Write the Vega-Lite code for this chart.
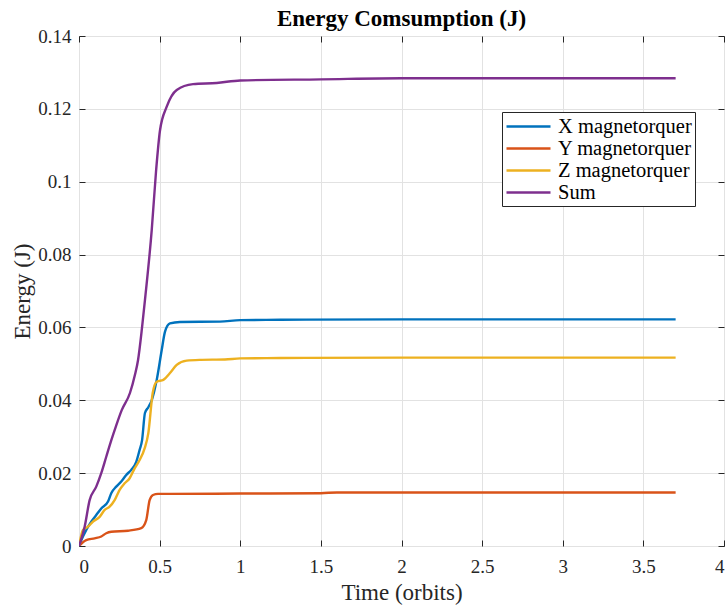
{
  "$schema": "https://vega.github.io/schema/vega-lite/v6.json",
  "width": 645,
  "height": 510,
  "autosize": "none",
  "padding": {"left": 79, "top": 36, "right": 3, "bottom": 59},
  "background": "white",
  "title": {"text": "Energy Comsumption (J)", "font": "Liberation Serif", "fontSize": 23, "fontWeight": "bold", "color": "#000000", "anchor": "middle", "baseline": "bottom", "offset": 5, "dy": 32},
  "config": {
    "view": {"stroke": "#262626", "strokeWidth": 1},
    "axis": {"domainColor": "#262626", "tickColor": "#262626", "gridColor": "#e2e2e2", "gridWidth": 1, "labelFont": "Liberation Serif", "labelFontSize": 19, "labelColor": "#262626", "titleFont": "Liberation Serif", "titleFontSize": 23, "titleColor": "#262626", "titleFontWeight": "normal", "tickSize": -6},
    "legend": {"labelFont": "Liberation Serif", "labelFontSize": 20.5, "labelColor": "#000000"}
  },
  "datasets": {
    "series": [
      {"t": 0, "e": 0, "s": "X magnetorquer"},
      {"t": 0.014, "e": 0.0016, "s": "X magnetorquer"},
      {"t": 0.045, "e": 0.0044, "s": "X magnetorquer"},
      {"t": 0.076, "e": 0.0067, "s": "X magnetorquer"},
      {"t": 0.107, "e": 0.0085, "s": "X magnetorquer"},
      {"t": 0.138, "e": 0.0103, "s": "X magnetorquer"},
      {"t": 0.180, "e": 0.0122, "s": "X magnetorquer"},
      {"t": 0.200, "e": 0.0145, "s": "X magnetorquer"},
      {"t": 0.231, "e": 0.0163, "s": "X magnetorquer"},
      {"t": 0.262, "e": 0.0177, "s": "X magnetorquer"},
      {"t": 0.293, "e": 0.0195, "s": "X magnetorquer"},
      {"t": 0.324, "e": 0.0209, "s": "X magnetorquer"},
      {"t": 0.355, "e": 0.0231, "s": "X magnetorquer"},
      {"t": 0.376, "e": 0.0264, "s": "X magnetorquer"},
      {"t": 0.391, "e": 0.0290, "s": "X magnetorquer"},
      {"t": 0.409, "e": 0.0365, "s": "X magnetorquer"},
      {"t": 0.430, "e": 0.0381, "s": "X magnetorquer"},
      {"t": 0.451, "e": 0.0400, "s": "X magnetorquer"},
      {"t": 0.482, "e": 0.0456, "s": "X magnetorquer"},
      {"t": 0.513, "e": 0.0538, "s": "X magnetorquer"},
      {"t": 0.533, "e": 0.0588, "s": "X magnetorquer"},
      {"t": 0.564, "e": 0.0611, "s": "X magnetorquer"},
      {"t": 0.626, "e": 0.0615, "s": "X magnetorquer"},
      {"t": 0.874, "e": 0.0616, "s": "X magnetorquer"},
      {"t": 1.0, "e": 0.0620, "s": "X magnetorquer"},
      {"t": 1.25, "e": 0.0621, "s": "X magnetorquer"},
      {"t": 2.0, "e": 0.0622, "s": "X magnetorquer"},
      {"t": 3.7, "e": 0.0622, "s": "X magnetorquer"},

      {"t": 0, "e": 0, "s": "Y magnetorquer"},
      {"t": 0.045, "e": 0.0016, "s": "Y magnetorquer"},
      {"t": 0.097, "e": 0.0021, "s": "Y magnetorquer"},
      {"t": 0.138, "e": 0.0026, "s": "Y magnetorquer"},
      {"t": 0.169, "e": 0.0035, "s": "Y magnetorquer"},
      {"t": 0.200, "e": 0.0039, "s": "Y magnetorquer"},
      {"t": 0.304, "e": 0.0042, "s": "Y magnetorquer"},
      {"t": 0.386, "e": 0.0049, "s": "Y magnetorquer"},
      {"t": 0.417, "e": 0.0071, "s": "Y magnetorquer"},
      {"t": 0.438, "e": 0.0126, "s": "Y magnetorquer"},
      {"t": 0.459, "e": 0.0140, "s": "Y magnetorquer"},
      {"t": 0.490, "e": 0.0143, "s": "Y magnetorquer"},
      {"t": 0.564, "e": 0.0143, "s": "Y magnetorquer"},
      {"t": 1.0, "e": 0.0144, "s": "Y magnetorquer"},
      {"t": 1.5, "e": 0.0145, "s": "Y magnetorquer"},
      {"t": 1.6, "e": 0.0147, "s": "Y magnetorquer"},
      {"t": 2.0, "e": 0.0147, "s": "Y magnetorquer"},
      {"t": 3.7, "e": 0.0147, "s": "Y magnetorquer"},

      {"t": 0, "e": 0, "s": "Z magnetorquer"},
      {"t": 0.025, "e": 0.0044, "s": "Z magnetorquer"},
      {"t": 0.056, "e": 0.0053, "s": "Z magnetorquer"},
      {"t": 0.087, "e": 0.0067, "s": "Z magnetorquer"},
      {"t": 0.128, "e": 0.0080, "s": "Z magnetorquer"},
      {"t": 0.159, "e": 0.0099, "s": "Z magnetorquer"},
      {"t": 0.190, "e": 0.0108, "s": "Z magnetorquer"},
      {"t": 0.221, "e": 0.0126, "s": "Z magnetorquer"},
      {"t": 0.252, "e": 0.0154, "s": "Z magnetorquer"},
      {"t": 0.283, "e": 0.0172, "s": "Z magnetorquer"},
      {"t": 0.314, "e": 0.0186, "s": "Z magnetorquer"},
      {"t": 0.345, "e": 0.0213, "s": "Z magnetorquer"},
      {"t": 0.376, "e": 0.0236, "s": "Z magnetorquer"},
      {"t": 0.407, "e": 0.0268, "s": "Z magnetorquer"},
      {"t": 0.430, "e": 0.0310, "s": "Z magnetorquer"},
      {"t": 0.457, "e": 0.0420, "s": "Z magnetorquer"},
      {"t": 0.482, "e": 0.0451, "s": "Z magnetorquer"},
      {"t": 0.523, "e": 0.0456, "s": "Z magnetorquer"},
      {"t": 0.564, "e": 0.0475, "s": "Z magnetorquer"},
      {"t": 0.606, "e": 0.0497, "s": "Z magnetorquer"},
      {"t": 0.668, "e": 0.0509, "s": "Z magnetorquer"},
      {"t": 0.750, "e": 0.0511, "s": "Z magnetorquer"},
      {"t": 0.905, "e": 0.0512, "s": "Z magnetorquer"},
      {"t": 1.0, "e": 0.0515, "s": "Z magnetorquer"},
      {"t": 1.25, "e": 0.0516, "s": "Z magnetorquer"},
      {"t": 2.0, "e": 0.0517, "s": "Z magnetorquer"},
      {"t": 3.7, "e": 0.0517, "s": "Z magnetorquer"},

      {"t": 0, "e": 0, "s": "Sum"},
      {"t": 0.035, "e": 0.0053, "s": "Sum"},
      {"t": 0.066, "e": 0.0126, "s": "Sum"},
      {"t": 0.107, "e": 0.0163, "s": "Sum"},
      {"t": 0.138, "e": 0.0200, "s": "Sum"},
      {"t": 0.169, "e": 0.0245, "s": "Sum"},
      {"t": 0.200, "e": 0.0290, "s": "Sum"},
      {"t": 0.230, "e": 0.0330, "s": "Sum"},
      {"t": 0.265, "e": 0.0373, "s": "Sum"},
      {"t": 0.316, "e": 0.0420, "s": "Sum"},
      {"t": 0.347, "e": 0.0470, "s": "Sum"},
      {"t": 0.366, "e": 0.0510, "s": "Sum"},
      {"t": 0.391, "e": 0.0600, "s": "Sum"},
      {"t": 0.409, "e": 0.0675, "s": "Sum"},
      {"t": 0.451, "e": 0.0867, "s": "Sum"},
      {"t": 0.478, "e": 0.1030, "s": "Sum"},
      {"t": 0.502, "e": 0.1140, "s": "Sum"},
      {"t": 0.544, "e": 0.1206, "s": "Sum"},
      {"t": 0.606, "e": 0.1252, "s": "Sum"},
      {"t": 0.707, "e": 0.1268, "s": "Sum"},
      {"t": 0.854, "e": 0.1271, "s": "Sum"},
      {"t": 1.0, "e": 0.1278, "s": "Sum"},
      {"t": 1.5, "e": 0.1281, "s": "Sum"},
      {"t": 2.0, "e": 0.1284, "s": "Sum"},
      {"t": 3.7, "e": 0.1284, "s": "Sum"}
    ]
  },
  "data": {"name": "series"},
  "layer": [
    {
      "mark": {"type": "line", "strokeWidth": 2.4, "interpolate": "monotone", "clip": true},
      "encoding": {
        "x": {"field": "t", "type": "quantitative", "scale": {"domain": [0, 4], "nice": false, "zero": false},
          "axis": {"orient": "bottom", "values": [0, 0.5, 1, 1.5, 2, 2.5, 3, 3.5, 4], "format": "~g", "title": "Time (orbits)", "labelPadding": 17, "titleY": 53, "titleBaseline": "alphabetic", "domain": false}},
        "y": {"field": "e", "type": "quantitative", "scale": {"domain": [0, 0.14], "nice": false, "zero": false},
          "axis": {"orient": "left", "values": [0, 0.02, 0.04, 0.06, 0.08, 0.1, 0.12, 0.14], "format": "~g", "title": "Energy (J)", "labelPadding": 14, "titleX": -57, "titleBaseline": "middle", "titleAngle": -90, "domain": false}},
        "color": {"field": "s", "type": "nominal",
          "scale": {"domain": ["X magnetorquer", "Y magnetorquer", "Z magnetorquer", "Sum"], "range": ["#0072BD", "#D95319", "#EDB120", "#7E2F8E"]},
          "legend": {"title": null, "orient": "none", "legendX": 423, "legendY": 76, "symbolType": "M-2.2,0H2.2", "symbolSize": 400, "symbolOffset": 12, "symbolStrokeWidth": 2.4, "fillColor": "white", "strokeColor": "#262626", "padding": 3, "rowPadding": 0, "labelOffset": 18, "labelLimit": 300}},
        "detail": {"field": "s"}
      }
    },
    {
      "mark": {"type": "point", "opacity": 0},
      "encoding": {
        "x": {"field": "t", "type": "quantitative", "scale": {"domain": [0, 4], "nice": false, "zero": false},
          "axis": {"orient": "top", "values": [0, 0.5, 1, 1.5, 2, 2.5, 3, 3.5, 4], "labels": false, "grid": false, "title": null, "domain": false}},
        "y": {"field": "e", "type": "quantitative", "scale": {"domain": [0, 0.14], "nice": false, "zero": false},
          "axis": {"orient": "right", "values": [0, 0.02, 0.04, 0.06, 0.08, 0.1, 0.12, 0.14], "labels": false, "grid": false, "title": null, "domain": false}}
      }
    }
  ],
  "resolve": {"scale": {"x": "independent", "y": "independent"}, "axis": {"x": "independent", "y": "independent"}}
}
